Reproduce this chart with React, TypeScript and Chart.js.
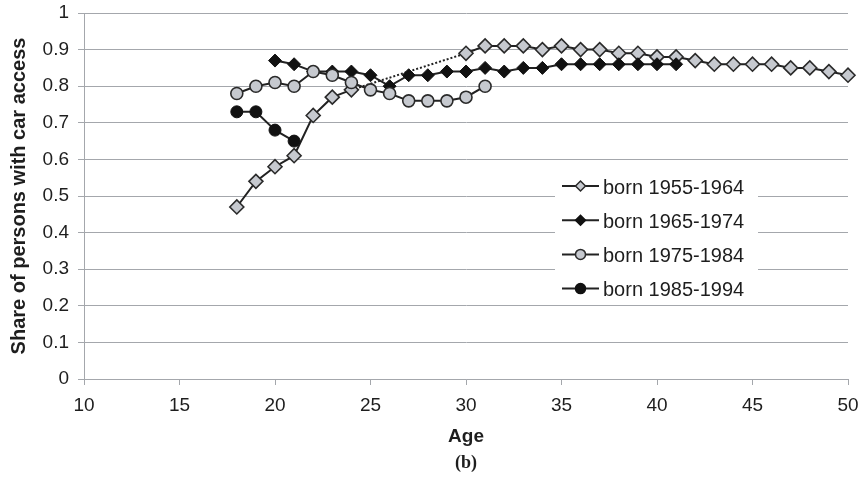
import React, { useEffect, useRef } from 'react';
import { Chart, registerables } from 'chart.js';

Chart.register(...registerables);

// ---- Data ----
const seriesLabels = ['born 1955-1964', 'born 1965-1974', 'born 1975-1984', 'born 1985-1994'];

const ages1955 = [18, 19, 20, 21, 22, 23, 24, 25, 26, 27, 28, 29, 30, 31, 32, 33, 34, 35, 36, 37, 38, 39, 40, 41, 42, 43, 44, 45, 46, 47, 48, 49, 50];
const share1955: (number | null)[] = [0.47, 0.54, 0.58, 0.61, 0.72, 0.77, 0.79, null, null, null, null, null, 0.89, 0.91, 0.91, 0.91, 0.9, 0.91, 0.9, 0.9, 0.89, 0.89, 0.88, 0.88, 0.87, 0.86, 0.86, 0.86, 0.86, 0.85, 0.85, 0.84, 0.83];

const ages1965 = [20, 21, 22, 23, 24, 25, 26, 27, 28, 29, 30, 31, 32, 33, 34, 35, 36, 37, 38, 39, 40, 41];
const share1965 = [0.87, 0.86, 0.84, 0.84, 0.84, 0.83, 0.8, 0.83, 0.83, 0.84, 0.84, 0.85, 0.84, 0.85, 0.85, 0.86, 0.86, 0.86, 0.86, 0.86, 0.86, 0.86];

const ages1975 = [18, 19, 20, 21, 22, 23, 24, 25, 26, 27, 28, 29, 30, 31];
const share1975 = [0.78, 0.8, 0.81, 0.8, 0.84, 0.83, 0.81, 0.79, 0.78, 0.76, 0.76, 0.76, 0.77, 0.8];

const ages1985 = [18, 19, 20, 21];
const share1985 = [0.73, 0.73, 0.68, 0.65];

const xMin = 10, xMax = 50, xStep = 5;
const yMin = 0, yMax = 1, yStep = 0.1;

// ---- Styles ----
const GRID = '#a4a7ac';
const TEXT = '#1e1e1e';
const LINE = '#222222';
const LIGHT = '#c6c9cf';
const FONT = '"Liberation Sans", Arial, sans-serif';

const toPoints = (ages: number[], vals: (number | null)[]) =>
  ages.map((x, i) => ({ x, y: vals[i] })).filter((p) => p.y !== null) as { x: number; y: number }[];

const LEG = {
  left: 555,
  top: 166,
  width: 203,
  height: 137,
  lineX0: 562,
  lineX1: 599,
  textX: 603,
  firstBaseline: 193.5,
  rowGap: 34.2,
  markerLift: 7.5,
};

const boxLegend = {
  id: 'boxLegend',
  beforeDatasetsDraw(chart: any) {
    const ctx = chart.ctx as CanvasRenderingContext2D;
    ctx.save();
    ctx.fillStyle = '#ffffff';
    ctx.fillRect(LEG.left, LEG.top, LEG.width, LEG.height);
    chart.data.datasets.forEach((ds: any, i: number) => {
      const base = LEG.firstBaseline + i * LEG.rowGap;
      const cy = base - LEG.markerLift;
      ctx.strokeStyle = ds.borderColor;
      ctx.lineWidth = 2;
      ctx.setLineDash([]);
      ctx.beginPath();
      ctx.moveTo(LEG.lineX0, cy);
      ctx.lineTo(LEG.lineX1, cy);
      ctx.stroke();
      const cx = (LEG.lineX0 + LEG.lineX1) / 2;
      const r = 5;
      ctx.beginPath();
      if (ds.pointStyle === 'rectRot') {
        ctx.moveTo(cx - r, cy);
        ctx.lineTo(cx, cy - r);
        ctx.lineTo(cx + r, cy);
        ctx.lineTo(cx, cy + r);
        ctx.closePath();
      } else {
        ctx.arc(cx, cy, r, 0, Math.PI * 2);
      }
      ctx.fillStyle = ds.pointBackgroundColor;
      ctx.fill();
      ctx.lineWidth = 1.5;
      ctx.strokeStyle = ds.pointBorderColor;
      ctx.stroke();
      ctx.fillStyle = TEXT;
      ctx.font = `20px ${FONT}`;
      ctx.textAlign = 'left';
      ctx.textBaseline = 'alphabetic';
      ctx.fillText(ds.label, LEG.textX, base);
    });
    ctx.restore();
  },
};

export default function App() {
  const ref = useRef<HTMLCanvasElement>(null);

  useEffect(() => {
    const canvas = ref.current;
    if (!canvas) return;
    Chart.defaults.font.family = FONT;
    Chart.defaults.color = TEXT;

    const pts1955 = toPoints(ages1955, share1955);
    const pts1965 = toPoints(ages1965, share1965);
    const pts1975 = toPoints(ages1975, share1975);
    const pts1985 = toPoints(ages1985, share1985);

    const chart = new Chart(canvas, {
      type: 'line',
      data: {
        datasets: [
          {
            label: seriesLabels[0],
            data: pts1955,
            order: 4,
            borderColor: LINE,
            borderWidth: 2,
            pointStyle: 'rectRot',
            pointRadius: 7,
            pointBackgroundColor: LIGHT,
            pointBorderColor: '#2a2a2a',
            pointBorderWidth: 1.6,
            clip: false,
            segment: {
              borderDash: (c: any) =>
                pts1955[c.p1DataIndex].x - pts1955[c.p0DataIndex].x > 1 ? [2, 2] : undefined,
            },
          } as any,
          {
            label: seriesLabels[1],
            data: pts1965,
            order: 3,
            borderColor: LINE,
            borderWidth: 2,
            pointStyle: 'rectRot',
            pointRadius: 6.5,
            pointBackgroundColor: '#111111',
            pointBorderColor: '#111111',
            pointBorderWidth: 1,
            clip: false,
          } as any,
          {
            label: seriesLabels[2],
            data: pts1975,
            order: 2,
            borderColor: LINE,
            borderWidth: 2,
            pointStyle: 'circle',
            pointRadius: 6,
            pointBackgroundColor: LIGHT,
            pointBorderColor: '#2a2a2a',
            pointBorderWidth: 1.6,
            clip: false,
          } as any,
          {
            label: seriesLabels[3],
            data: pts1985,
            order: 1,
            borderColor: LINE,
            borderWidth: 2,
            pointStyle: 'circle',
            pointRadius: 6,
            pointBackgroundColor: '#111111',
            pointBorderColor: '#111111',
            pointBorderWidth: 1,
            clip: false,
          } as any,
        ],
      },
      options: {
        animation: false,
        responsive: false,
        devicePixelRatio: 1,
        events: [],
        layout: { padding: { top: 13, right: 13, bottom: 10, left: 0 } },
        plugins: {
          legend: { display: false },
          tooltip: { enabled: false },
          title: {
            display: true,
            text: '(b)',
            position: 'bottom',
            fullSize: false,
            color: TEXT,
            font: { family: '"Liberation Serif", "Times New Roman", serif', size: 18, weight: 'bold' },
            padding: 0,
          },
        },
        scales: {
          x: {
            type: 'linear',
            min: xMin,
            max: xMax,
            afterFit: (s: any) => {
              s.height = 73.4;
              s.paddingLeft = 0;
              s.paddingRight = 0;
            },
            ticks: { stepSize: xStep, font: { size: 19 }, color: TEXT, padding: 9 },
            grid: { drawOnChartArea: false, drawTicks: true, tickLength: 6, color: GRID },
            border: { color: GRID },
            title: {
              display: true,
              text: 'Age',
              color: TEXT,
              font: { size: 19, weight: 'bold' },
              padding: { top: 0, bottom: 4 },
            },
          },
          y: {
            type: 'linear',
            min: yMin,
            max: yMax,
            afterFit: (s: any) => {
              s.width = 84;
              s.paddingTop = 0;
              s.paddingBottom = 0;
            },
            ticks: {
              stepSize: yStep,
              font: { size: 19 },
              color: TEXT,
              padding: 9,
              callback: (v: any) => String(Math.round(Number(v) * 10) / 10),
            },
            grid: { color: GRID, tickLength: 6 },
            border: { color: GRID },
            title: {
              display: true,
              text: 'Share of persons with car access',
              color: TEXT,
              font: { size: 20, weight: 'bold' },
              padding: { top: 7, bottom: 0 },
            },
          },
        },
      } as any,
      plugins: [boxLegend],
    });
    return () => chart.destroy();
  }, []);

  return (
    <div style={{ position: 'absolute', left: 0, top: 0, width: 861, height: 484, background: '#fff' }}>
      <canvas ref={ref} width={861} height={484} style={{ width: 861, height: 484, display: 'block' }} />
    </div>
  );
}
